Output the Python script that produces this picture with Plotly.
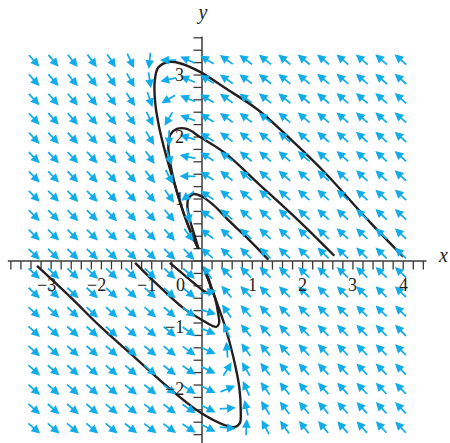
import numpy as np
import plotly.graph_objects as go

# ---- data ----
# linear system x' = A x  (direction field)
A11, A12 = -3.0, -1.0
A21, A22 = 2.33, 0.466

GRID_X = list(np.linspace(-3.35, 3.96, 20))
GRID_Y = list(np.linspace(-2.69, 3.24, 20))

# trajectories (x, y) in order of motion
c1_x = [4.0, 3.3, 2.45, 1.78, 1.11, 0.46, -0.04, -0.44, -0.67, -0.87, -0.94, -0.93, -0.85, -0.72, -0.55, -0.36, -0.20, -0.07]
c1_y = [0.07, 0.66, 1.42, 1.95, 2.44, 2.79, 3.05, 3.19, 3.21, 3.12, 2.90, 2.55, 2.15, 1.72, 1.25, 0.76, 0.42, 0.20]

c2_x = [2.63, 1.91, 1.12, 0.46, -0.04, -0.30, -0.50, -0.63, -0.67, -0.64, -0.55, -0.36, -0.20, -0.07]
c2_y = [0.085, 0.66, 1.25, 1.74, 2.00, 2.13, 2.13, 2.04, 1.86, 1.62, 1.27, 0.76, 0.42, 0.20]

c3_x = [1.32, 0.95, 0.56, 0.23, 0.0, -0.17, -0.27, -0.29, -0.24, -0.14, -0.07]
c3_y = [0.02, 0.33, 0.63, 0.90, 1.04, 1.08, 1.01, 0.88, 0.66, 0.39, 0.20]

c4_x = [-3.28, -2.62, -2.03, -1.37, -0.70, -0.04, 0.46, 0.64, 0.75, 0.77, 0.74, 0.62, 0.46, 0.29, 0.13, 0.03]
c4_y = [-0.08, -0.58, -1.05, -1.53, -2.02, -2.44, -2.65, -2.68, -2.62, -2.42, -2.03, -1.54, -1.06, -0.66, -0.31, -0.10]

c5_x = [-1.33, -1.03, -0.37, 0.0, 0.19, 0.29, 0.34, 0.32, 0.26, 0.13, 0.03]
c5_y = [-0.03, -0.27, -0.76, -0.95, -1.04, -1.06, -1.00, -0.84, -0.60, -0.31, -0.10]

c6_x = [-0.64, -0.17, 0.03, 0.13, 0.17, 0.15, 0.08, 0.03]
c6_y = [-0.03, -0.35, -0.48, -0.52, -0.47, -0.33, -0.20, -0.10]

X_TICKS = [round(-3.8 + 0.2 * i, 2) for i in range(42)]
Y_TICKS = [round(-2.8 + 0.2 * i, 2) for i in range(33)]
X_LABELS = [-3, -2, -1, 0, 1, 2, 3, 4]
Y_LABELS = [-2, -1, 1, 2, 3]

# ---- layout geometry ----
W, H = 450, 443
XR = [-4.016, 4.93]
YR = [-2.935, 4.21]
PX = W / (XR[1] - XR[0])   # pixels per x unit
PY = H / (YR[1] - YR[0])   # pixels per y unit

ARROW = "#12ADE9"
INK = "#231F20"
AX = "#3a3a3a"

fig = go.Figure()
annotations = []

# direction field
half = 8.8
for gx in GRID_X:
    for gy in GRID_Y:
        vx = A11 * gx + A12 * gy
        vy = A21 * gx + A22 * gy
        px, py = vx * PX, vy * PY
        n = np.hypot(px, py)
        if n == 0:
            continue
        dx = px / n * half / PX
        dy = py / n * half / PY
        annotations.append(dict(
            x=gx + dx, y=gy + dy, ax=gx - dx, ay=gy - dy,
            xref="x", yref="y", axref="x", ayref="y",
            text="", showarrow=True, arrowhead=2, arrowsize=1.0,
            arrowwidth=1.75, arrowcolor=ARROW, standoff=0, startstandoff=0))

# axes lines
fig.add_trace(go.Scatter(x=[-3.86, 4.46], y=[0, 0], mode="lines",
                         line=dict(color=AX, width=1.5), hoverinfo="skip"))
fig.add_trace(go.Scatter(x=[0, 0], y=[-3.0, 3.62], mode="lines",
                         line=dict(color=AX, width=1.5), hoverinfo="skip"))

# ticks
tl = 8.5
tx, ty = [], []
for t in X_TICKS:
    tx += [t, t, None]
    ty += [0, -tl / PY, None]
for t in Y_TICKS:
    tx += [0, -tl / PX, None]
    ty += [t, t, None]
fig.add_trace(go.Scatter(x=tx, y=ty, mode="lines",
                         line=dict(color=AX, width=1.3), hoverinfo="skip"))

# trajectories
for cx, cy in [(c1_x, c1_y), (c2_x, c2_y), (c3_x, c3_y),
               (c4_x, c4_y), (c5_x, c5_y), (c6_x, c6_y)]:
    fig.add_trace(go.Scatter(x=cx, y=cy, mode="lines",
                             line=dict(color=INK, width=2.4, shape="spline", smoothing=1.0),
                             hoverinfo="skip"))

font = dict(family="Liberation Serif, Times New Roman, serif", size=18, color=INK)
for v in X_LABELS:
    lab = ("\u2212" + str(-v)) if v < 0 else str(v)
    if v == 0:
        annotations.append(dict(x=-0.42, y=-0.39, xref="x", yref="y", text=lab,
                                showarrow=False, font=font))
    else:
        annotations.append(dict(x=v, y=-0.39, xref="x", yref="y", text=lab,
                                showarrow=False, font=font,
                                xshift=-5 if v < 0 else 0))
for v in Y_LABELS:
    lab = ("\u2212" + str(-v)) if v < 0 else str(v)
    annotations.append(dict(x=-0.32, y=v, xref="x", yref="y", text=lab,
                            showarrow=False, font=font, xanchor="right",
                            yshift=-4 if v < 0 else 0))

tfont = dict(family="Liberation Serif, Times New Roman, serif", size=20, color=INK)
fig.add_trace(go.Scatter(x=[4.8], y=[0.06], mode="text", text=["<i>x</i>"],
                         textfont=tfont, textposition="middle center",
                         cliponaxis=False, hoverinfo="skip"))
fig.add_trace(go.Scatter(x=[0.02], y=[3.98], mode="text", text=["<i>y</i>"],
                         textfont=tfont, textposition="middle center",
                         cliponaxis=False, hoverinfo="skip"))

fig.update_layout(
    width=W, height=H, margin=dict(l=0, r=0, t=0, b=0),
    paper_bgcolor="white", plot_bgcolor="white", showlegend=False,
    xaxis=dict(range=XR, visible=False, fixedrange=True),
    yaxis=dict(range=YR, visible=False, fixedrange=True),
    annotations=annotations,
)
fig.write_html("out.html", config={"displayModeBar": False},
               post_script="document.body.style.margin='0';document.body.style.overflow='hidden';")
